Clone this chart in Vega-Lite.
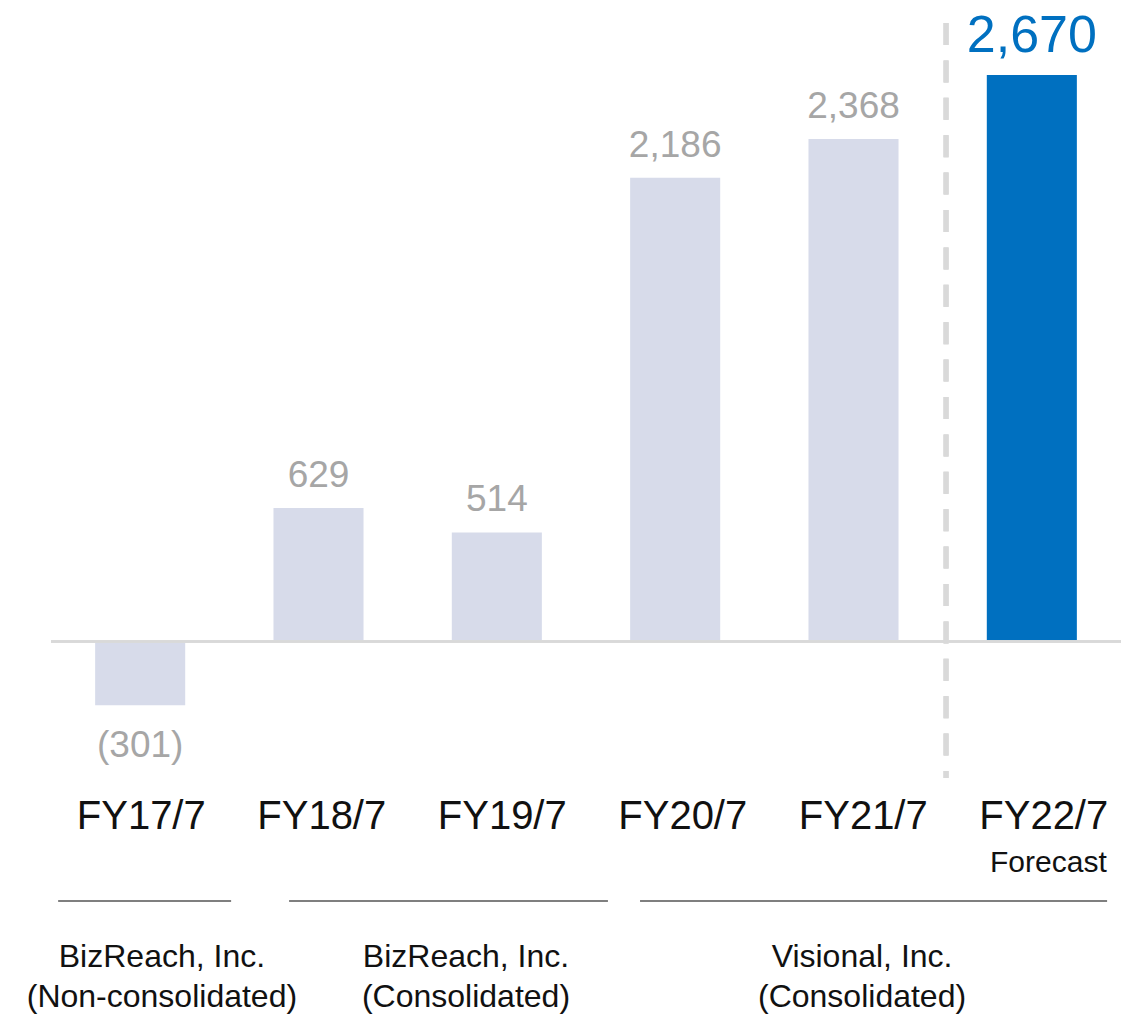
{
  "$schema": "https://vega.github.io/schema/vega-lite/v6.json",
  "width": 1070,
  "height": 1015,
  "autosize": {"type": "none"},
  "padding": {"left": 51, "right": 14, "top": 0, "bottom": 0},
  "background": "white",
  "config": {"view": {"stroke": null}, "font": "Liberation Sans", "text": {"font": "Liberation Sans"}},
  "datasets": {
    "bars": [
      {"cat": "FY17/7", "value": -301, "label": "(301)", "type": "Actual"},
      {"cat": "FY18/7", "value": 629, "label": "629", "type": "Actual"},
      {"cat": "FY19/7", "value": 514, "label": "514", "type": "Actual"},
      {"cat": "FY20/7", "value": 2186, "label": "2,186", "type": "Actual"},
      {"cat": "FY21/7", "value": 2368, "label": "2,368", "type": "Actual"},
      {"cat": "FY22/7", "value": 2670, "label": "2,670", "type": "Forecast"}
    ],
    "groups": [
      {"group": "BizReach, Inc.\n(Non-consolidated)", "start": 0.04, "end": 1.01, "center": 0.622},
      {"group": "BizReach, Inc.\n(Consolidated)", "start": 1.335, "end": 3.123, "center": 2.327},
      {"group": "Visional, Inc.\n(Consolidated)", "start": 3.303, "end": 5.922, "center": 4.548}
    ]
  },
  "layer": [
    {
      "data": {"name": "bars"},
      "layer": [
        {
          "mark": {"type": "bar"},
          "encoding": {
            "x": {"field": "cat", "type": "nominal", "sort": null, "axis": null,
                  "scale": {"domain": ["FY17/7", "FY18/7", "FY19/7", "FY20/7", "FY21/7", "FY22/7"], "paddingInner": 0.495, "paddingOuter": 0.2475}},
            "y": {"field": "value", "type": "quantitative", "axis": null,
                  "scale": {"domain": [-1760.4, 3023.5], "nice": false, "zero": false}},
            "color": {"field": "type", "type": "nominal", "legend": null,
                      "scale": {"domain": ["Actual", "Forecast"], "range": ["#d7dbea", "#0070c0"]}}
          }
        },
        {
          "mark": {"type": "rule", "color": "#d9d9d9", "strokeWidth": 2},
          "encoding": {
            "y": {"datum": 0, "type": "quantitative", "scale": {"domain": [-1760.4, 3023.5], "nice": false, "zero": false}}
          }
        },
        {
          "transform": [{"filter": "datum.value > 0 && datum.type === 'Actual'"}],
          "mark": {"type": "text", "fontSize": 37, "color": "#a6a6a6", "baseline": "alphabetic", "dy": -21},
          "encoding": {
            "x": {"field": "cat", "type": "nominal", "sort": null,
                  "scale": {"domain": ["FY17/7", "FY18/7", "FY19/7", "FY20/7", "FY21/7", "FY22/7"], "paddingInner": 0.495, "paddingOuter": 0.2475}},
            "y": {"field": "value", "type": "quantitative", "scale": {"domain": [-1760.4, 3023.5], "nice": false, "zero": false}},
            "text": {"field": "label"}
          }
        },
        {
          "transform": [{"filter": "datum.value < 0"}],
          "mark": {"type": "text", "fontSize": 37, "color": "#a6a6a6", "baseline": "alphabetic", "dy": 52},
          "encoding": {
            "x": {"field": "cat", "type": "nominal", "sort": null,
                  "scale": {"domain": ["FY17/7", "FY18/7", "FY19/7", "FY20/7", "FY21/7", "FY22/7"], "paddingInner": 0.495, "paddingOuter": 0.2475}},
            "y": {"field": "value", "type": "quantitative", "scale": {"domain": [-1760.4, 3023.5], "nice": false, "zero": false}},
            "text": {"field": "label"}
          }
        },
        {
          "transform": [{"filter": "datum.type === 'Forecast'"}],
          "mark": {"type": "text", "fontSize": 52, "color": "#0070c0", "baseline": "alphabetic", "dy": -23},
          "encoding": {
            "x": {"field": "cat", "type": "nominal", "sort": null,
                  "scale": {"domain": ["FY17/7", "FY18/7", "FY19/7", "FY20/7", "FY21/7", "FY22/7"], "paddingInner": 0.495, "paddingOuter": 0.2475}},
            "y": {"field": "value", "type": "quantitative", "scale": {"domain": [-1760.4, 3023.5], "nice": false, "zero": false}},
            "text": {"field": "label"}
          }
        }
      ]
    },
    {
      "data": {"name": "bars"},
      "layer": [
        {
          "mark": {"type": "text", "fontSize": 40, "color": "#111111", "baseline": "alphabetic"},
          "encoding": {
            "x": {"field": "cat", "type": "nominal", "sort": null, "axis": null,
                  "scale": {"domain": ["FY17/7", "FY18/7", "FY19/7", "FY20/7", "FY21/7", "FY22/7"], "range": [0, 1083], "paddingInner": 0, "paddingOuter": 0}},
            "y": {"datum": -884, "type": "quantitative", "scale": {"domain": [-1760.4, 3023.5], "nice": false, "zero": false}},
            "text": {"field": "cat"}
          }
        },
        {
          "transform": [{"filter": "datum.type === 'Forecast'"}],
          "mark": {"type": "text", "fontSize": 30, "color": "#111111", "baseline": "alphabetic", "align": "right", "dx": 63},
          "encoding": {
            "x": {"field": "cat", "type": "nominal", "sort": null, "axis": null,
                  "scale": {"domain": ["FY17/7", "FY18/7", "FY19/7", "FY20/7", "FY21/7", "FY22/7"], "range": [0, 1083], "paddingInner": 0, "paddingOuter": 0}},
            "y": {"datum": -1087, "type": "quantitative", "scale": {"domain": [-1760.4, 3023.5], "nice": false, "zero": false}},
            "text": {"value": "Forecast"}
          }
        }
      ]
    },
    {
      "data": {"name": "groups"},
      "layer": [
        {
          "mark": {"type": "rule", "color": "#555555", "strokeWidth": 1.5},
          "encoding": {
            "x": {"field": "start", "type": "quantitative", "axis": null, "scale": {"domain": [0, 6], "nice": false, "zero": false}},
            "x2": {"field": "end"},
            "y": {"datum": -1223, "type": "quantitative", "scale": {"domain": [-1760.4, 3023.5], "nice": false, "zero": false}}
          }
        },
        {
          "mark": {"type": "text", "fontSize": 32, "color": "#111111", "baseline": "alphabetic", "lineBreak": "\n", "lineHeight": 40},
          "encoding": {
            "x": {"field": "center", "type": "quantitative", "axis": null, "scale": {"domain": [0, 6], "nice": false, "zero": false}},
            "y": {"datum": -1534, "type": "quantitative", "scale": {"domain": [-1760.4, 3023.5], "nice": false, "zero": false}},
            "text": {"field": "group"}
          }
        },
        {
          "mark": {"type": "rule", "color": "#d9d9d9", "strokeWidth": 5, "strokeDash": [22, 15.4]},
          "encoding": {
            "x": {"datum": 5.019, "type": "quantitative", "scale": {"domain": [0, 6], "nice": false, "zero": false}},
            "y": {"datum": 2915, "type": "quantitative", "scale": {"domain": [-1760.4, 3023.5], "nice": false, "zero": false}},
            "y2": {"datum": -643}
          }
        }
      ]
    }
  ],
  "resolve": {"scale": {"x": "independent"}}
}
